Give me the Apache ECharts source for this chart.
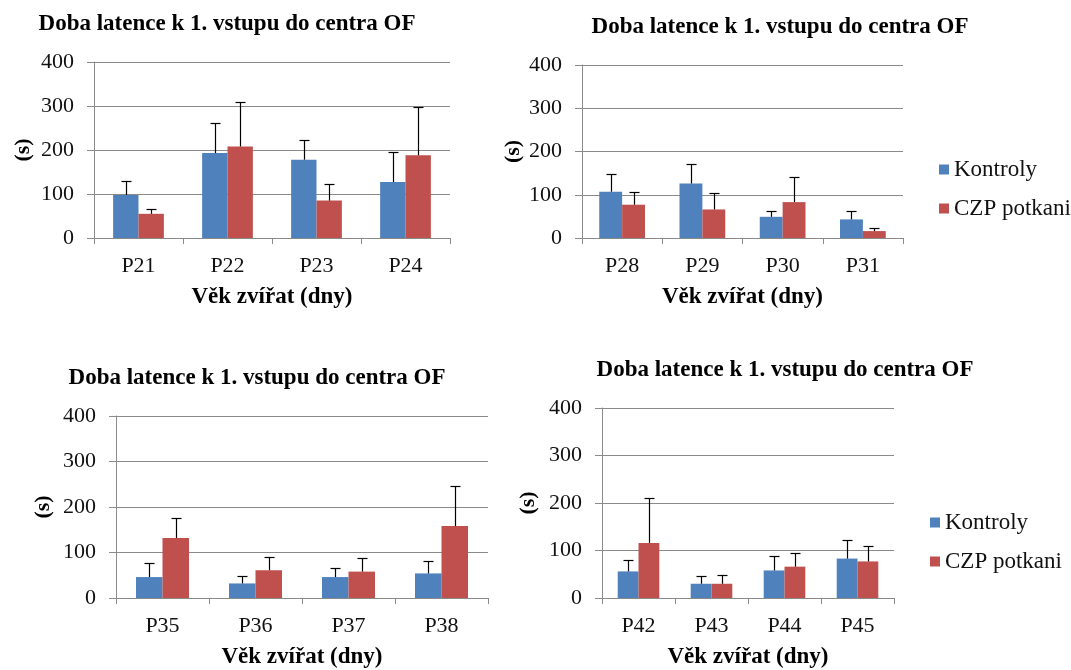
<!DOCTYPE html>
<html>
<head>
<meta charset="utf-8">
<script src="https://cdn.jsdelivr.net/npm/echarts@6/dist/echarts.min.js"></script>
<style>
  html, body { margin: 0; padding: 0; background: #fff; }
  #chart { width: 1071px; height: 670px; }
</style>
</head>
<body>
<div id="chart"></div>
<script>
// ============================================================
// Data
// ============================================================

var TITLE = 'Doba latence k 1. vstupu do centra OF';
var X_NAME = 'Věk zvířat (dny)';
var Y_NAME = '(s)';
var SERIES_NAMES = ['Kontroly', 'CZP potkani'];
var Y_TICKS = [0, 100, 200, 300, 400];

var cats1 = ['P21', 'P22', 'P23', 'P24'];
var ctrl1 = [98, 193, 178, 127];
var ctrlSd1 = [31, 68, 44, 68];
var czp1 = [55, 208, 85, 188];
var czpSd1 = [10, 102, 38, 109];

var cats2 = ['P28', 'P29', 'P30', 'P31'];
var ctrl2 = [107, 126, 49, 43];
var ctrlSd2 = [42, 45, 14, 20];
var czp2 = [77, 66, 83, 16];
var czpSd2 = [29, 37, 58, 8];

var cats3 = ['P35', 'P36', 'P37', 'P38'];
var ctrl3 = [46, 32, 46, 54];
var ctrlSd3 = [31, 16, 19, 28];
var czp3 = [132, 61, 58, 158];
var czpSd3 = [44, 29, 30, 88];

var cats4 = ['P42', 'P43', 'P44', 'P45'];
var ctrl4 = [56, 30, 58, 83];
var ctrlSd4 = [23, 17, 30, 40];
var czp4 = [116, 30, 66, 77];
var czpSd4 = [95, 18, 28, 32];

// ============================================================
// Style / layout
// ============================================================

var FONT = '"Liberation Serif", "Times New Roman", serif';
var COLORS = ['#4F81BD', '#C0504D'];
var GRID_COLOR = '#8a8a8a';
var CAT_GAP = 0.43;

var PANELS = [
  { cats: cats1, ctrl: ctrl1, ctrlSd: ctrlSd1, czp: czp1, czpSd: czpSd1,
    grid: { left: 94, top: 62, width: 356, height: 176 }, titleX: 227, titleY: 24, yGap: 60, legend: null },
  { cats: cats2, ctrl: ctrl2, ctrlSd: ctrlSd2, czp: czp2, czpSd: czpSd2,
    grid: { left: 582, top: 65, width: 321, height: 173 }, titleX: 780, titleY: 27, yGap: 58, legend: { left: 939, top: 158 } },
  { cats: cats3, ctrl: ctrl3, ctrlSd: ctrlSd3, czp: czp3, czpSd: czpSd3,
    grid: { left: 116, top: 416, width: 372, height: 184 }, titleX: 257, titleY: 378, yGap: 62, legend: null },
  { cats: cats4, ctrl: ctrl4, ctrlSd: ctrlSd4, czp: czp4, czpSd: czpSd4,
    grid: { left: 602, top: 408, width: 292, height: 192 }, titleX: 785, titleY: 370, yGap: 63, legend: { left: 930, top: 511 } }
];

// error bar drawn only upward, offset to the bar of given side (-1 blue, +1 red)
function makeErrorRenderer(side) {
  return function(params, api) {
    var idx = api.value(0);
    var base = api.coord([idx, api.value(1)]);
    var top = api.coord([idx, api.value(1) + api.value(2)]);
    var band = api.size([1, 0])[0];
    var barW = band * (1 - CAT_GAP) / 2;
    var cx = Math.round(base[0] + side * barW / 2) + 0.5;
    var ty = Math.round(top[1]) + 0.5;
    var lineStyle = { stroke: '#000', lineWidth: 1.2 };
    return {
      type: 'group',
      children: [
        { type: 'line', shape: { x1: cx, y1: base[1], x2: cx, y2: ty }, style: lineStyle },
        { type: 'line', shape: { x1: cx - 5, y1: ty, x2: cx + 5, y2: ty }, style: lineStyle }
      ]
    };
  };
}

function errData(values, sds) {
  return values.map(function(v, i) { return [i, v, sds[i]]; });
}

// ============================================================
// Build option
// ============================================================

var grids = [], xAxes = [], yAxes = [], series = [], legends = [], texts = [];

PANELS.forEach(function(p, i) {
  grids.push(p.grid);

  xAxes.push({
    type: 'category',
    gridIndex: i,
    data: p.cats,
    name: X_NAME,
    nameLocation: 'middle',
    nameGap: 48,
    nameTextStyle: { fontFamily: FONT, fontSize: 23, fontWeight: 'bold', color: '#000' },
    axisLine: { lineStyle: { color: GRID_COLOR, width: 1 } },
    axisTick: { show: true, length: 6, lineStyle: { color: GRID_COLOR } },
    axisLabel: { fontFamily: FONT, fontSize: 22, color: '#111', margin: 17 },
    splitLine: { show: false }
  });

  yAxes.push({
    type: 'value',
    gridIndex: i,
    min: Y_TICKS[0],
    max: Y_TICKS[Y_TICKS.length - 1],
    interval: Y_TICKS[1] - Y_TICKS[0],
    name: Y_NAME,
    nameLocation: 'middle',
    nameGap: p.yGap,
    nameRotate: 90,
    nameTextStyle: { fontFamily: FONT, fontSize: 22, fontWeight: 'bold', color: '#000' },
    axisLine: { show: true, lineStyle: { color: GRID_COLOR, width: 1 } },
    axisTick: { show: true, length: 7, lineStyle: { color: GRID_COLOR } },
    axisLabel: { fontFamily: FONT, fontSize: 22, color: '#111', margin: 20 },
    splitLine: { show: true, lineStyle: { color: GRID_COLOR, width: 1 } }
  });

  series.push({
    name: SERIES_NAMES[0], type: 'bar', xAxisIndex: i, yAxisIndex: i,
    data: p.ctrl, barGap: 0, barCategoryGap: (CAT_GAP * 100) + '%',
    itemStyle: { color: COLORS[0] }, animation: false
  });
  series.push({
    name: SERIES_NAMES[1], type: 'bar', xAxisIndex: i, yAxisIndex: i,
    data: p.czp, barGap: 0, barCategoryGap: (CAT_GAP * 100) + '%',
    itemStyle: { color: COLORS[1] }, animation: false
  });
  series.push({
    type: 'custom', xAxisIndex: i, yAxisIndex: i, z: 5,
    renderItem: makeErrorRenderer(-1), data: errData(p.ctrl, p.ctrlSd), animation: false
  });
  series.push({
    type: 'custom', xAxisIndex: i, yAxisIndex: i, z: 5,
    renderItem: makeErrorRenderer(1), data: errData(p.czp, p.czpSd), animation: false
  });

  if (p.legend) {
    legends.push({
      data: SERIES_NAMES,
      orient: 'vertical',
      left: p.legend.left,
      top: p.legend.top,
      padding: 0,
      icon: 'rect',
      itemWidth: 10,
      itemHeight: 10,
      itemGap: 16,
      selectedMode: false,
      textStyle: { fontFamily: FONT, fontSize: 23, color: '#111' }
    });
  }

  texts.push({
    type: 'text',
    x: p.titleX,
    y: p.titleY,
    style: {
      text: TITLE,
      font: 'bold 23px ' + FONT,
      fill: '#000',
      textAlign: 'center',
      textVerticalAlign: 'middle'
    }
  });
});

var chart = echarts.init(document.getElementById('chart'));
chart.setOption({
  animation: false,
  backgroundColor: '#fff',
  textStyle: { fontFamily: FONT },
  grid: grids,
  xAxis: xAxes,
  yAxis: yAxes,
  legend: legends,
  graphic: texts,
  series: series
});
</script>
</body>
</html>
